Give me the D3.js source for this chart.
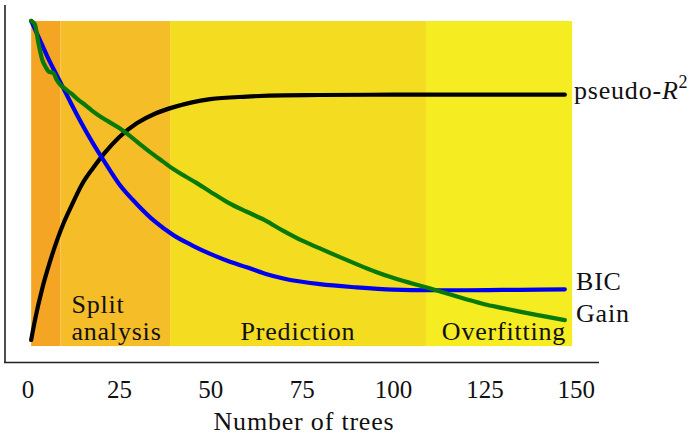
<!DOCTYPE html>
<html>
<head>
<meta charset="utf-8">
<script src="https://cdn.jsdelivr.net/npm/d3@7"></script>
<style>
  body { margin: 0; background: #fff; }
</style>
</head>
<body>
<div id="chart"></div>
<script>
// phases of the boosting run (number of trees)
let phaseNames = ["", "Split analysis", "Prediction", "Overfitting"];
let phaseStart = [1, 9, 39, 109];
let phaseEnd = [9, 39, 109, 149];
let phaseColors = ["#f5a524", "#f5bd28", "#f4dc21", "#f6ec22"];

let xTicks = [0, 25, 50, 75, 100, 125, 150];

// normalised curves
let r2Trees = [1, 2, 4, 6, 8, 10, 12, 15, 18, 21, 25, 30, 35, 40, 45, 50, 60, 70, 80, 100, 120, 147];
let r2Values = [0, 0.06, 0.16, 0.24, 0.31, 0.37, 0.42, 0.49, 0.54, 0.585, 0.635, 0.68, 0.71, 0.73, 0.745, 0.755, 0.763, 0.767, 0.768, 0.769, 0.769, 0.769];

let bicTrees = [1, 2, 4, 6, 8, 10, 12, 15, 18, 21, 25, 30, 35, 40, 45, 50, 55, 60, 65, 70, 80, 90, 100, 110, 120, 130, 140, 147];
let bicValues = [1.0, 0.975, 0.925, 0.875, 0.83, 0.785, 0.74, 0.675, 0.615, 0.56, 0.49, 0.425, 0.37, 0.328, 0.297, 0.27, 0.247, 0.228, 0.208, 0.193, 0.175, 0.165, 0.158, 0.156, 0.156, 0.157, 0.158, 0.159];

let gainTrees = [1, 2, 3, 4, 5, 6, 7, 8, 9, 10, 11, 12, 14, 16, 18, 20, 22, 25, 28, 31, 34, 37, 40, 43, 46, 50, 55, 60, 65, 70, 75, 80, 85, 90, 95, 100, 105, 110, 115, 120, 125, 130, 135, 140, 147];
let gainValues = [1.0, 0.99, 0.93, 0.88, 0.855, 0.84, 0.838, 0.815, 0.8, 0.79, 0.781, 0.772, 0.752, 0.735, 0.716, 0.7, 0.686, 0.665, 0.64, 0.612, 0.585, 0.56, 0.535, 0.514, 0.494, 0.465, 0.43, 0.402, 0.375, 0.342, 0.312, 0.287, 0.262, 0.238, 0.215, 0.195, 0.178, 0.162, 0.145, 0.128, 0.112, 0.1, 0.088, 0.077, 0.0625];

let width = 700, height = 436;
let serif = "'Liberation Serif', 'DejaVu Serif', serif";

let svg = d3.select("#chart").append("svg")
    .attr("width", width)
    .attr("height", height);

let x = d3.scaleLinear().domain([0, 150]).range([27.5, 575.8]);
let y = d3.scaleLinear().domain([0, 1]).range([340, 21]);

function label(xp, yp, txt, anchor) {
    return svg.append("text")
        .attr("x", xp)
        .attr("y", yp)
        .attr("text-anchor", anchor || "start")
        .style("font-family", serif)
        .style("font-size", "26px")
        .style("letter-spacing", "0.8px")
        .style("fill", "#111")
        .text(txt);
}

// coloured phase bands
for (let i = 0; i < phaseStart.length; i++) {
    svg.append("rect")
        .attr("x", x(phaseStart[i]))
        .attr("y", y(1))
        .attr("width", x(phaseEnd[i]) - x(phaseStart[i]))
        .attr("height", y(-0.019) - y(1))
        .style("fill", phaseColors[i]);
}

// phase labels
label(x(phaseStart[1]) + 11, 313, "Split");
label(x(phaseStart[1]) + 11, 340, "analysis");
label((x(phaseStart[2]) + x(phaseEnd[2])) / 2, 340, phaseNames[2], "middle");
label(x(phaseEnd[3]) - 6, 340, phaseNames[3], "end");

// frame: left and bottom only
svg.append("line")
    .attr("x1", 5).attr("x2", 5)
    .attr("y1", 5).attr("y2", 363)
    .style("stroke", "#222").style("stroke-width", 1.6);
svg.append("line")
    .attr("x1", 4).attr("x2", 599)
    .attr("y1", 362.5).attr("y2", 362.5)
    .style("stroke", "#222").style("stroke-width", 1.6);

let xAxis = svg.append("g")
    .attr("transform", "translate(0,380)")
    .call(d3.axisBottom(x).tickValues(xTicks).tickSize(0).tickPadding(0).tickFormat(d3.format("d")));
xAxis.select(".domain").remove();
xAxis.selectAll("text")
    .attr("dy", "0.71em")
    .style("font-size", "25px")
    .style("font-family", serif)
    .style("fill", "#111");

label(304, 430, "Number of trees", "middle");

// curves
let line = d3.line()
    .x(d => x(d[0]))
    .y(d => y(d[1]))
    .curve(d3.curveMonotoneX);

let series = [
    { trees: r2Trees, values: r2Values, color: "#000000" },
    { trees: bicTrees, values: bicValues, color: "#0000f0" },
    { trees: gainTrees, values: gainValues, color: "#087a08" }
];

for (let i = 0; i < series.length; i++) {
    let s = series[i];
    svg.append("path")
        .datum(d3.zip(s.trees, s.values))
        .attr("d", line)
        .style("fill", "none")
        .style("stroke", s.color)
        .style("stroke-width", 4.2)
        .style("stroke-linejoin", "round")
        .style("stroke-linecap", "round");
}

// end labels
let r2Label = label(574, 99, "pseudo-");
r2Label.append("tspan").style("font-style", "italic").text("R");
r2Label.append("tspan").attr("dy", -11).style("font-size", "18px").text("2");

label(576, 290, "BIC");
label(576, 322, "Gain");
</script>
</body>
</html>
